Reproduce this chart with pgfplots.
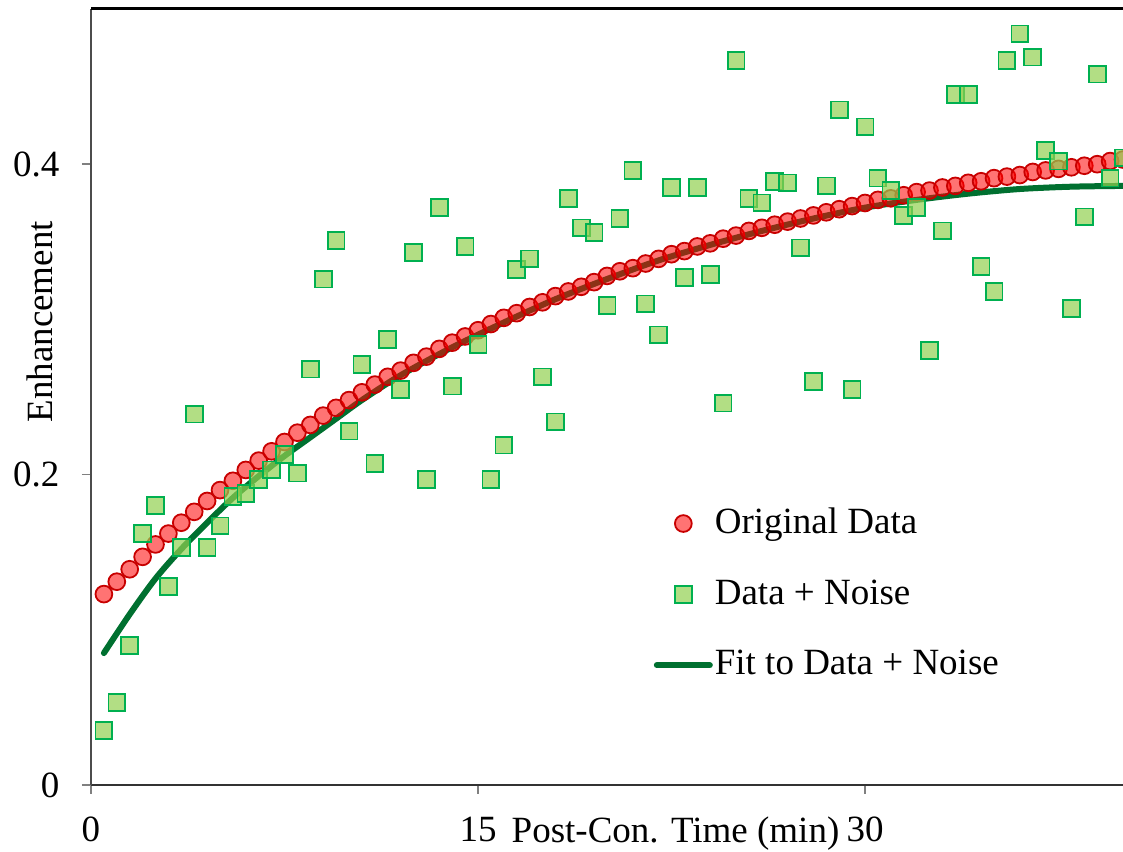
\documentclass[border=0pt]{standalone}
\usepackage{fontspec}
\setmainfont{Liberation Serif}
\usepackage{pgfplots}
\usepackage{pgfplotstable}
\pgfplotsset{compat=1.18}
\definecolor{mkred}{RGB}{255,0,0}
\definecolor{mkredline}{RGB}{200,0,0}
\definecolor{sqfill}{RGB}{146,208,80}
\definecolor{sqline}{RGB}{0,176,80}
\definecolor{fitgreen}{RGB}{0,112,48}

\pgfplotstableread{
t y
0.5 0.123
1.0 0.131
1.5 0.139
2.0 0.147
2.5 0.155
3.0 0.162
3.5 0.169
4.0 0.176
4.5 0.183
5.0 0.190
5.5 0.196
6.0 0.203
6.5 0.209
7.0 0.215
7.5 0.221
8.0 0.227
8.5 0.232
9.0 0.238
9.5 0.243
10.0 0.248
10.5 0.253
11.0 0.258
11.5 0.263
12.0 0.267
12.5 0.272
13.0 0.276
13.5 0.281
14.0 0.285
14.5 0.289
15.0 0.293
15.5 0.297
16.0 0.301
16.5 0.304
17.0 0.308
17.5 0.311
18.0 0.315
18.5 0.318
19.0 0.321
19.5 0.324
20.0 0.328
20.5 0.331
21.0 0.333
21.5 0.336
22.0 0.339
22.5 0.342
23.0 0.344
23.5 0.347
24.0 0.349
24.5 0.352
25.0 0.354
25.5 0.357
26.0 0.359
26.5 0.361
27.0 0.363
27.5 0.365
28.0 0.367
28.5 0.369
29.0 0.371
29.5 0.373
30.0 0.375
30.5 0.377
31.0 0.378
31.5 0.380
32.0 0.382
32.5 0.383
33.0 0.385
33.5 0.386
34.0 0.388
34.5 0.389
35.0 0.391
35.5 0.392
36.0 0.393
36.5 0.395
37.0 0.396
37.5 0.397
38.0 0.398
38.5 0.399
39.0 0.400
39.5 0.402
40.0 0.403
}\origdata

\pgfplotstableread{
t y
0.5 0.035
1.0 0.053
1.5 0.090
2.0 0.162
2.5 0.180
3.0 0.128
3.5 0.153
4.0 0.239
4.5 0.153
5.0 0.167
5.5 0.186
6.0 0.188
6.5 0.197
7.0 0.203
7.5 0.213
8.0 0.201
8.5 0.268
9.0 0.326
9.5 0.351
10.0 0.228
10.5 0.271
11.0 0.207
11.5 0.287
12.0 0.255
12.5 0.343
13.0 0.197
13.5 0.372
14.0 0.257
14.5 0.347
15.0 0.284
15.5 0.197
16.0 0.219
16.5 0.332
17.0 0.339
17.5 0.263
18.0 0.234
18.5 0.378
19.0 0.359
19.5 0.356
20.0 0.309
20.5 0.365
21.0 0.396
21.5 0.310
22.0 0.290
22.5 0.385
23.0 0.327
23.5 0.385
24.0 0.329
24.5 0.246
25.0 0.467
25.5 0.378
26.0 0.375
26.5 0.389
27.0 0.388
27.5 0.346
28.0 0.260
28.5 0.386
29.0 0.435
29.5 0.255
30.0 0.424
30.5 0.391
31.0 0.383
31.5 0.367
32.0 0.372
32.5 0.280
33.0 0.357
33.5 0.445
34.0 0.445
34.5 0.334
35.0 0.318
35.5 0.467
36.0 0.484
36.5 0.469
37.0 0.409
37.5 0.402
38.0 0.307
38.5 0.366
39.0 0.458
39.5 0.391
40.0 0.404
}\noisedata

\pgfplotstableread{
t y
0.5 0.085
1.5 0.110
2.5 0.133
3.5 0.152
4.5 0.169
5.5 0.185
6.5 0.199
7.5 0.212
8.5 0.224
9.5 0.236
10.5 0.248
12 0.264
14 0.282
16 0.298
18 0.313
20 0.326
22 0.338
24 0.348
26 0.357
28 0.365
30 0.372
32 0.377
34 0.381
36 0.384
38 0.3855
40 0.386
}\fitdata

\tikzset{
  origstyle/.style={only marks, mark=*, mark size=4.2pt,
    mark options={draw=mkredline, fill=mkred, fill opacity=0.55, line width=0.9pt}},
  noisestyle/.style={only marks, mark=square*, mark size=4.2pt,
    mark options={draw=sqline, fill=sqfill, fill opacity=0.7, line width=0.9pt}},
  fitstyle/.style={no marks, draw=fitgreen, line width=3pt, line cap=round}
}

\begin{document}
\fontsize{18.5}{22}\selectfont
\begin{tikzpicture}
\begin{axis}[
  scale only axis, width=516pt, height=388pt,
  xmin=0, xmax=40, ymin=0, ymax=0.5,
  axis x line=bottom, axis y line=left,
  x axis line style={-, draw=black!80, line width=1.2pt},
  y axis line style={-, draw=black!70, line width=1.2pt},
  xtick={0,15,30}, ytick={0,0.2,0.4},
  tick align=outside, major tick length=4.5pt,
  tick style={draw=gray, line width=0.8pt},
  ticklabel style={font=\fontsize{18.5}{22}\selectfont},
  xticklabel style={yshift=-5pt},
  yticklabel style={xshift=-5pt},
  /pgf/number format/assume math mode=true,
  every axis x label/.style={at={(rel axis cs:0.5664,0)}, anchor=base, yshift=-28.75pt},
  every axis y label/.style={at={(rel axis cs:0,0.597)}, xshift=-25.5pt, rotate=90, anchor=center},
  xlabel={Post-Con. Time (min)}, ylabel={Enhancement},
  legend style={draw=none, fill=none, at={(rel axis cs:0.545,0.246)}, anchor=west,
    inner sep=0pt, row sep=18.25pt, font=\fontsize{18.5}{22}\selectfont, nodes={inner sep=1pt}},
  legend cell align=left,
  legend image code/.code={\draw[mark repeat=2,mark phase=2,#1] plot coordinates {(0pt,0pt) (13.25pt,0pt) (26.5pt,0pt)};},
  clip marker paths=true,
]
\addlegendimage{origstyle}
\addlegendentry{Original Data}
\addlegendimage{noisestyle}
\addlegendentry{Data + Noise}
\addlegendimage{fitstyle}
\addlegendentry{Fit to Data + Noise}
\addplot[fitstyle, smooth, forget plot] table[x=t, y=y] {\fitdata};
\addplot[origstyle, forget plot] table[x=t, y=y] {\origdata};
\addplot[noisestyle, forget plot] table[x=t, y=y] {\noisedata};
\coordinate (BL) at (rel axis cs:0,0);
\coordinate (TL) at (rel axis cs:0,1);
\coordinate (TR) at (rel axis cs:1,1);
\end{axis}
\draw[line width=1.5pt, black] (TL) -- (TR);
\pgfresetboundingbox
\useasboundingbox ([xshift=-45.5pt, yshift=-33.5pt]BL) rectangle ([yshift=4.5pt]TR);
\end{tikzpicture}
\end{document}
